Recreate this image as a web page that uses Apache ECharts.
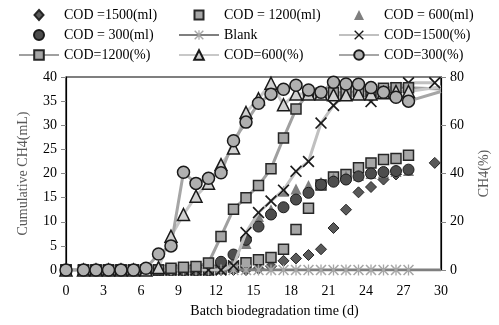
<!DOCTYPE html>
<html>
<head>
<meta charset="utf-8">
<script src="https://cdn.jsdelivr.net/npm/echarts@6/dist/echarts.min.js"></script>
<style>
html, body { margin: 0; padding: 0; background: #fff; }
#main { width: 499px; height: 325px; }
</style>
</head>
<body>
<div id="main"></div>
<script>
// sampling days (d)
var days = [0, 1.4, 2.4, 3.4, 4.4, 5.4, 6.4, 7.4, 8.4, 9.4, 10.4, 11.4, 12.4, 13.4,
            14.4, 15.4, 16.4, 17.4, 18.4, 19.4, 20.4, 21.4, 22.4, 23.4, 24.4, 25.4, 26.4, 27.4];

// cumulative CH4 (mL)
var cod1500ml = [0, 0, 0, 0, 0, 0, 0, 0, 0, 0, 0, 0, 0, 0, 0, 0.3, 0.8, 1.9, 2.4, 3.1, 4.3, 8.7, 12.5, 16.1, 17.2, 18.75, 19.8, null];
var cod1500mlLast = [29.5, 22.2];
var cod1200ml = [0, 0, 0, 0, 0, 0, 0, 0, 0, 0, 0, 0, 0.3, 0.6, 1.5, 2.1, 2.6, 4.3, 8.4, 12.8, 17.6, 19.3, 19.8, 21.2, 22.2, 22.9, 23.1, 23.8];
var cod600ml = [0, 0, 0, 0, 0, 0, 0, 0, 0, 0, 0, 0, 0.5, 2, 5.5, 11.1, 12.5, 16.3, 16.8, 17.5, 18.2, 19, 19.5, 19.6, 20, 20.2, 20.4, 20.6];
var cod300ml = [0, 0, 0, 0, 0, 0, 0, 0, 0, 0, 0, 0, 1.7, 3.2, 6.25, 9.0, 11.5, 13.0, 14.6, 16.0, 17.7, 18.3, 18.75, 19.4, 20.0, 20.3, 20.5, 20.8];
var blank = [0, 0, 0, 0, 0, 0, 0, 0, 0, 0, 0, 0, 0, 0, 0, 0, 0, 0, 0, 0, 0, 0, 0, 0, 0, 0, 0, 0];
var blankEnd = [30, 0];

// CH4 content (%)
var cod1500pct = [0, 0, 0, 0, 0, 0, 0, 0, 0, 0, 0, 0, 0, 1.8, 15.5, 23.8, 28.6, 33.1, 40.9, 45, 60.9, 68.2, 73, 74, 69.8, 74, 75.5, 77.6];
var cod1500pctLast = [29.5, 77.6];
var cod1200pct = [0, 0, 0, 0, 0, 0, 0, 0, 0.7, 1.1, 1.5, 2.9, 13.9, 25.2, 30, 35, 42, 54.7, 66.7, 73.3, 73.3, 73.5, 73.5, 74, 74.5, 75.3, 75.5, 75.5];
var cod1200pctEnd = [30, 75];
var cod600pct = [0, 0, 0, 0, 0, 0, 0, 1, 14, 23, 30.6, 36, 43.7, 50.6, 65.3, 71, 77.4, 68.5, 73, 73, 73, 72.6, 72.6, 73, 73, 73.5, 74, 74];
var cod600pctEnd = [30, 76];
var cod300pct = [0, 0, 0, 0, 0, 0, 0.7, 6.6, 10, 40.5, 35.9, 38, 40.3, 53.6, 61.3, 69.1, 72.9, 74.9, 76.6, 74.6, 73.7, 77.8, 77.1, 77, 75.6, 73.7, 71.6, 70];
var cod300pctEnd = [30, 74];

var crossPath = 'path://M0,1 L1,0 L5,4 L9,0 L10,1 L6,5 L10,9 L9,10 L5,6 L1,10 L0,9 L4,5 Z';
var starPath = 'path://M0,1 L1,0 L5,4 L9,0 L10,1 L6,5 L10,9 L9,10 L5,6 L1,10 L0,9 L4,5 Z M4.4,0 L5.6,0 L5.6,10 L4.4,10 Z';

// legend icons for the scatter series, boxed to 40x12 so they are not stretched
var box = 'M0,0 L0,0 Z M40,12 L40,12 Z ';
var iconDiamond = 'path://' + box + 'M20,1 L24.5,6 L20,11 L15.5,6 Z';
var iconSquare = 'path://' + box + 'M15.5,1.5 L24.5,1.5 L24.5,10.5 L15.5,10.5 Z';
var iconTriangle = 'path://' + box + 'M20,1 L25,11 L15,11 Z';
var iconCircle = 'path://' + box + 'M25,6 A5,5 0 1 1 15,6 A5,5 0 1 1 25,6 Z';

function pairs(vals, last, hideLast)
{
	var out = [];
	for (var i = 0; i < vals.length; i++) {
		if (vals[i] != null) out.push([days[i], vals[i]]);
	}
	if (last) {
		if (hideLast) out.push({ value: last, symbol: 'none' });
		else out.push(last);
	}
	return out;
}

var serif = 'Liberation Serif';
var legendText = { fontFamily: serif, fontSize: 14, color: '#000' };

var chart = echarts.init(document.getElementById('main'));
var option = {
	animation: false,
	textStyle: { fontFamily: serif },
	grid: {
		left: 66, right: 56, top: 77, bottom: 55,
		show: true, borderColor: '#000', borderWidth: 1.2
	},
	legend: [
		{
			left: 18, top: 8, padding: 0, orient: 'vertical', itemWidth: 40, itemHeight: 12, itemGap: 6,
			textStyle: legendText,
			data: [{ name: 'COD =1500(ml)', icon: iconDiamond }, { name: 'COD = 300(ml)', icon: iconCircle }, 'COD=1200(%)']
		},
		{
			left: 178, top: 8, padding: 0, orient: 'vertical', itemWidth: 40, itemHeight: 12, itemGap: 6,
			textStyle: legendText,
			data: [{ name: 'COD = 1200(ml)', icon: iconSquare }, 'Blank', 'COD=600(%)']
		},
		{
			left: 338, top: 8, padding: 0, orient: 'vertical', itemWidth: 40, itemHeight: 12, itemGap: 6,
			textStyle: legendText,
			data: [{ name: 'COD = 600(ml)', icon: iconTriangle }, 'COD=1500(%)', 'COD=300(%)']
		}
	],
	xAxis: {
		type: 'value', min: 0, max: 30, interval: 3,
		name: 'Batch biodegradation time (d)', nameLocation: 'middle', nameGap: 34,
		nameTextStyle: { fontFamily: serif, fontSize: 14, color: '#000', padding: [0, 0, 0, 42] },
		axisLine: { lineStyle: { color: '#000' } },
		axisTick: { show: false },
		axisLabel: { fontFamily: serif, fontSize: 14, color: '#000', margin: 14 },
		splitLine: { show: false }
	},
	yAxis: [
		{
			type: 'value', min: 0, max: 40, interval: 5,
			name: 'Cumulative CH4(mL)', nameLocation: 'middle', nameGap: 36,
			nameTextStyle: { fontFamily: serif, fontSize: 14, color: '#595959' },
			axisLine: { show: true, lineStyle: { color: '#000', width: 1.2 } },
			axisTick: { show: true, length: 5, lineStyle: { color: '#888' } },
			axisLabel: { fontFamily: serif, fontSize: 14, color: '#000', margin: 9 },
			splitLine: { show: false }
		},
		{
			type: 'value', min: 0, max: 80, interval: 20, position: 'right',
			name: 'CH4(%)', nameLocation: 'middle', nameGap: 36,
			nameTextStyle: { fontFamily: serif, fontSize: 14, color: '#595959' },
			axisLine: { show: true, lineStyle: { color: '#000', width: 1.2 } },
			axisTick: { show: true, length: 5, lineStyle: { color: '#888' } },
			axisLabel: { fontFamily: serif, fontSize: 14, color: '#000', margin: 9 },
			splitLine: { show: false }
		}
	],
	series: [
		{
			name: 'COD =1500(ml)', type: 'scatter', yAxisIndex: 0,
			symbol: 'diamond', symbolSize: 11,
			itemStyle: { color: '#595959', borderColor: '#262626', borderWidth: 1, opacity: 1 },
			data: pairs(cod1500ml, cod1500mlLast)
		},
		{
			name: 'COD = 1200(ml)', type: 'scatter', yAxisIndex: 0,
			symbol: 'rect', symbolSize: 10,
			itemStyle: { color: '#a6a6a6', borderColor: '#262626', borderWidth: 1.5, opacity: 1 },
			data: pairs(cod1200ml)
		},
		{
			name: 'COD = 600(ml)', type: 'scatter', yAxisIndex: 0,
			symbol: 'triangle', symbolSize: 11,
			itemStyle: { color: '#7f7f7f', opacity: 1 },
			data: pairs(cod600ml)
		},
		{
			name: 'COD = 300(ml)', type: 'scatter', yAxisIndex: 0,
			symbol: 'circle', symbolSize: 11,
			itemStyle: { color: '#4d4d4d', borderColor: '#1a1a1a', borderWidth: 1, opacity: 1 },
			data: pairs(cod300ml)
		},
		{
			name: 'Blank', type: 'line', yAxisIndex: 0,
			symbol: starPath, symbolSize: 11,
			lineStyle: { color: '#7f7f7f', width: 3 },
			itemStyle: { color: '#a6a6a6' },
			data: pairs(blank, blankEnd, true)
		},
		{
			name: 'COD=1500(%)', type: 'line', yAxisIndex: 1,
			symbol: crossPath, symbolSize: 12,
			lineStyle: { color: '#c0c0c0', width: 3 },
			itemStyle: { color: '#1a1a1a' },
			data: pairs(cod1500pct, cod1500pctLast)
		},
		{
			name: 'COD=1200(%)', type: 'line', yAxisIndex: 1,
			symbol: 'rect', symbolSize: 10,
			lineStyle: { color: '#a0a0a0', width: 3 },
			itemStyle: { color: '#a6a6a6', borderColor: '#262626', borderWidth: 1.5 },
			data: pairs(cod1200pct, cod1200pctEnd, true)
		},
		{
			name: 'COD=600(%)', type: 'line', yAxisIndex: 1,
			symbol: 'triangle', symbolSize: 12,
			lineStyle: { color: '#c8c8c8', width: 3 },
			itemStyle: { color: '#d0d0d0', borderColor: '#1a1a1a', borderWidth: 1.5 },
			data: pairs(cod600pct, cod600pctEnd, true)
		},
		{
			name: 'COD=300(%)', type: 'line', yAxisIndex: 1,
			symbol: 'circle', symbolSize: 12,
			lineStyle: { color: '#a6a6a6', width: 3 },
			itemStyle: { color: '#b0b0b0', borderColor: '#1a1a1a', borderWidth: 1.5 },
			data: pairs(cod300pct, cod300pctEnd, true)
		}
	]
};
chart.setOption(option);
</script>
</body>
</html>
